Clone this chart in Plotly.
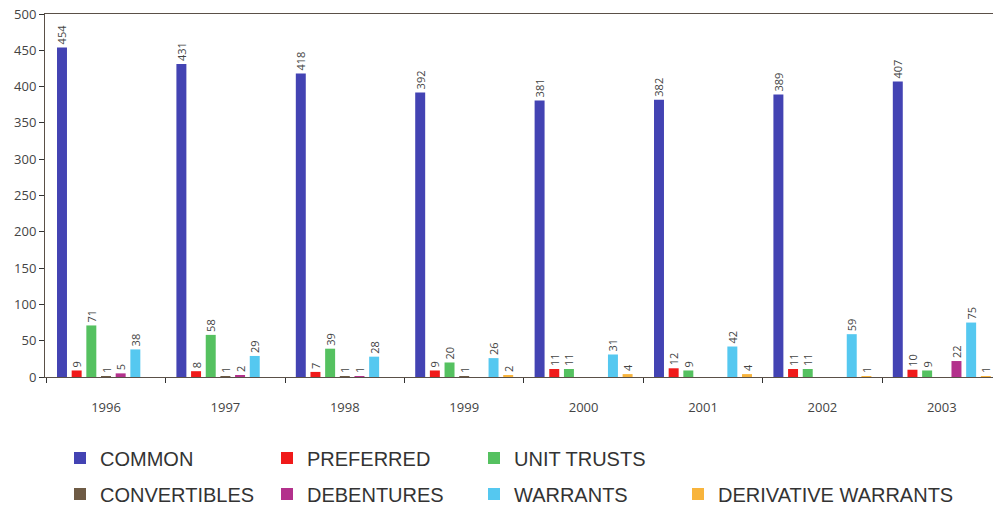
import plotly.graph_objects as go

years = ["1996", "1997", "1998", "1999", "2000", "2001", "2002", "2003"]
common = [454, 431, 418, 392, 381, 382, 389, 407]
preferred = [9, 8, 7, 9, 11, 12, 11, 10]
unit_trusts = [71, 58, 39, 20, 11, 9, 11, 9]
convertibles = [1, 1, 1, 1, None, None, None, None]
debentures = [5, 2, 1, None, None, None, None, 22]
warrants = [38, 29, 28, 26, 31, 42, 59, 75]
derivative_warrants = [None, None, None, 2, 4, 4, 1, 1]

series = [
    ("COMMON", common, "#4343B3", "legend"),
    ("PREFERRED", preferred, "#F01A1A", "legend"),
    ("UNIT TRUSTS", unit_trusts, "#55C160", "legend"),
    ("CONVERTIBLES", convertibles, "#6E5B45", "legend2"),
    ("DEBENTURES", debentures, "#B3318C", "legend2"),
    ("WARRANTS", warrants, "#55C8F0", "legend2"),
    ("DERIVATIVE WARRANTS", derivative_warrants, "#F8B43C", "legend3"),
]

fig = go.Figure()
for name, vals, color, lg in series:
    fig.add_trace(go.Bar(
        x=years, y=vals, name=name, marker_color=color, marker_line_width=0,
        text=[None if v is None else str(v) for v in vals],
        textposition="outside", textangle=-90, constraintext="none",
        textfont=dict(family="Open Sans", size=11, color="#444444"),
        cliponaxis=False, legend=lg,
    ))

W, H = 993, 509
L, T, B = 45, 14, 132
plot_w = W - L
plot_h = H - T - B
cat_px = 119.4
r0 = -61.0 / cat_px

leg_x = (60 - L) / plot_w
legfont = dict(family="Liberation Sans", size=20, color="#333333")
row1_y = -(458 - 377) / plot_h
row2_y = -(494 - 377) / plot_h

fig.update_layout(
    width=W, height=H,
    margin=dict(l=L, r=0, t=T, b=B, pad=0, autoexpand=False),
    paper_bgcolor="white", plot_bgcolor="white",
    barmode="group", bargap=0.14, bargroupgap=0.32,
    showlegend=True,
    legend=dict(orientation="h", x=leg_x, xanchor="left",
                y=row1_y, yanchor="middle",
                entrywidth=162, entrywidthmode="pixels",
                font=legfont, traceorder="normal", bgcolor="rgba(0,0,0,0)"),
    legend2=dict(orientation="h", x=leg_x, xanchor="left",
                 y=row2_y, yanchor="middle",
                 entrywidth=162, entrywidthmode="pixels",
                 font=legfont, traceorder="normal", bgcolor="rgba(0,0,0,0)"),
    legend3=dict(orientation="h", x=(678 - L) / plot_w, xanchor="left",
                 y=row2_y, yanchor="middle",
                 font=legfont, traceorder="normal", bgcolor="rgba(0,0,0,0)"),
    font=dict(family="Open Sans", color="#444444"),
)

fig.update_xaxes(
    range=[r0, r0 + plot_w / cat_px],
    showline=True, linecolor="#5a5048", linewidth=1, mirror=True,
    ticks="outside", tickson="boundaries", ticklen=5, tickcolor="#333333",
    tickfont=dict(family="Open Sans", size=13, color="#444444"),
    ticklabelstandoff=18, showgrid=False, zeroline=False,
)
fig.update_yaxes(
    range=[0, 500], dtick=50,
    showline=True, linecolor="#5a5048", linewidth=1,
    ticks="outside", ticklen=5, tickcolor="#333333",
    tickfont=dict(family="Open Sans", size=13, color="#444444"),
    showgrid=False, zeroline=False,
)

fig.write_html(
    "out.html",
    config={"displayModeBar": False},
    post_script="document.body.style.margin='0';document.body.style.overflow='hidden';",
)
